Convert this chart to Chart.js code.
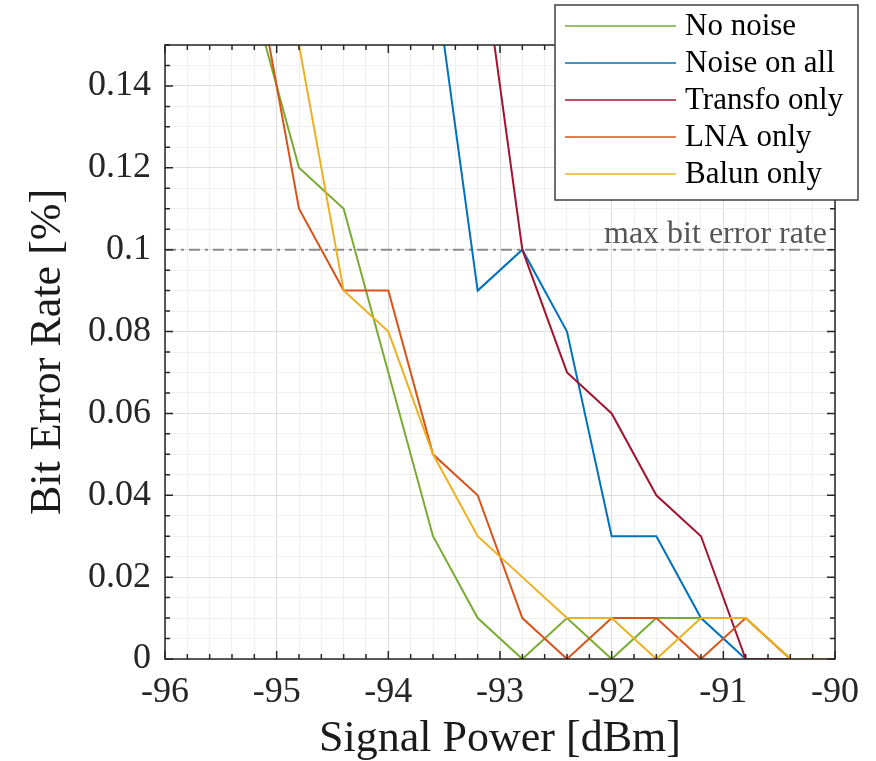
<!DOCTYPE html>
<html>
<head>
<meta charset="utf-8">
<title>Bit Error Rate vs Signal Power</title>
<script src="https://cdn.jsdelivr.net/npm/chart.js@4/dist/chart.umd.min.js"></script>
<style>
  body { margin: 0; background: #fff; }
  #wrap { width: 876px; height: 761px; }
</style>
</head>
<body>
<div id="wrap"><canvas id="ber"></canvas></div>
<script>
// signal power [dBm] of each measurement
const signalPower = [-95.2, -94.8, -94.4, -94.0, -93.6, -93.2, -92.8, -92.4, -92.0, -91.6, -91.2, -90.8, -90.4, -90.0];

// bit error rate [%], null = not measured / far off the plot
const noNoise    = [0.16, 0.12, 0.11, 0.07, 0.03, 0.01, 0.00, 0.01, 0.00, 0.01, 0.01, 0.01, 0.00, 0.00];
const noiseOnAll = [null, null, null, null, 0.17, 0.09, 0.10, 0.08, 0.03, 0.03, 0.01, 0.00, 0.00, 0.00];
const transfo    = [null, null, null, null, null, 0.18, 0.10, 0.07, 0.06, 0.04, 0.03, 0.00, 0.00, 0.00];
const lnaOnly    = [0.17, 0.11, 0.09, 0.09, 0.05, 0.04, 0.01, 0.00, 0.01, 0.01, 0.00, 0.01, 0.00, 0.00];
const balunOnly  = [null, 0.15, 0.09, 0.08, 0.05, 0.03, 0.02, 0.01, 0.01, 0.00, 0.01, 0.01, 0.00, 0.00];

const seriesNames  = ['No noise', 'Noise on all', 'Transfo only', 'LNA only', 'Balun only'];
const seriesValues = [noNoise, noiseOnAll, transfo, lnaOnly, balunOnly];
const seriesColors = ['#77AC30', '#0072BD', '#A2142F', '#D95319', '#EDB120'];

const maxBer = 0.1;
const maxBerLabel = 'max bit error rate';

const SERIF = "'Liberation Serif', 'Times New Roman', serif";
Chart.defaults.font.family = SERIF;
Chart.defaults.color = '#262626';

function isMajorX(v) { return Math.abs(v - Math.round(v)) < 1e-6; }
function isMajorY(v) { return Math.abs(v * 50 - Math.round(v * 50)) < 1e-6; }

const datasets = seriesValues.map((vals, i) => ({
    label: seriesNames[i],
    data: signalPower.map((x, j) => ({ x: x, y: vals[j] })),
    borderColor: seriesColors[i],
    backgroundColor: seriesColors[i],
    borderWidth: 2,
    pointRadius: 0,
    tension: 0,
    // later series on top, like the original plot
    order: seriesValues.length - i
}));

datasets.push({
    label: maxBerLabel,
    data: [{ x: -96, y: maxBer }, { x: -90, y: maxBer }],
    borderColor: '#8c8c8c',
    borderWidth: 2,
    borderDash: [11, 5, 3, 5],
    pointRadius: 0,
    order: 99
});

// box, inward ticks, threshold text and legend
const decorations = {
    id: 'decorations',
    afterDatasetsDraw(chart) {
        const { ctx, chartArea: a, scales } = chart;
        const xs = scales.x, ys = scales.y;
        ctx.save();

        // threshold label
        ctx.font = '32px ' + SERIF;
        ctx.fillStyle = '#555555';
        ctx.textAlign = 'right';
        ctx.textBaseline = 'alphabetic';
        ctx.fillText(maxBerLabel, a.right - 8, ys.getPixelForValue(maxBer) - 7);

        // frame
        ctx.strokeStyle = '#262626';
        ctx.lineWidth = 1.5;
        ctx.strokeRect(a.left, a.top, a.right - a.left, a.bottom - a.top);

        // inward ticks on all four sides
        ctx.beginPath();
        xs.ticks.forEach(t => {
            const px = xs.getPixelForValue(t.value);
            const len = isMajorX(t.value) ? 8 : 5;
            ctx.moveTo(px, a.bottom); ctx.lineTo(px, a.bottom - len);
            ctx.moveTo(px, a.top); ctx.lineTo(px, a.top + len);
        });
        ys.ticks.forEach(t => {
            const py = ys.getPixelForValue(t.value);
            const len = isMajorY(t.value) ? 8 : 5;
            ctx.moveTo(a.left, py); ctx.lineTo(a.left + len, py);
            ctx.moveTo(a.right, py); ctx.lineTo(a.right - len, py);
        });
        ctx.stroke();
        ctx.restore();
    },
    afterDraw(chart) {
        const ctx = chart.ctx;
        const boxX = 555, boxY = 5, boxW = 303, boxH = 195;
        ctx.save();
        ctx.fillStyle = '#ffffff';
        ctx.fillRect(boxX, boxY, boxW, boxH);
        ctx.strokeStyle = '#404040';
        ctx.lineWidth = 1.5;
        ctx.strokeRect(boxX, boxY, boxW, boxH);

        ctx.font = '31px ' + SERIF;
        ctx.textAlign = 'left';
        ctx.textBaseline = 'middle';
        seriesNames.forEach((name, i) => {
            const y = boxY + 21 + i * 37;
            ctx.strokeStyle = seriesColors[i];
            ctx.lineWidth = 1.5;
            ctx.beginPath();
            ctx.moveTo(boxX + 10, y);
            ctx.lineTo(boxX + 121, y);
            ctx.stroke();
            ctx.fillStyle = '#000000';
            ctx.fillText(name, boxX + 130, y + 1);
        });
        ctx.restore();
    }
};

const config = {
    type: 'line',
    data: { datasets: datasets },
    options: {
        responsive: true,
        maintainAspectRatio: false,
        animation: false,
        layout: { padding: { top: 45, right: 41, left: 0, bottom: 0 } },
        plugins: {
            legend: { display: false },
            tooltip: { enabled: false }
        },
        scales: {
            x: {
                type: 'linear',
                min: -96,
                max: -90,
                afterFit(scale) { scale.height = 102; },
                ticks: {
                    stepSize: 0.2,
                    maxTicksLimit: 100,
                    autoSkip: false,
                    maxRotation: 0,
                    padding: 12,
                    font: { size: 36 },
                    color: '#262626',
                    callback: v => isMajorX(v) ? String(Math.round(v)) : ''
                },
                grid: {
                    drawTicks: false,
                    color: c => (c.tick && isMajorX(c.tick.value)) ? '#dedede' : '#f0f0f0',
                    lineWidth: 1
                },
                border: { display: false },
                title: {
                    display: true,
                    text: 'Signal Power [dBm]',
                    font: { size: 44, lineHeight: 1 },
                    color: '#1a1a1a',
                    padding: { top: 0, bottom: 0 }
                }
            },
            y: {
                type: 'linear',
                min: 0,
                max: 0.15,
                afterFit(scale) { scale.width = 165; },
                ticks: {
                    stepSize: 0.005,
                    maxTicksLimit: 100,
                    autoSkip: false,
                    padding: 14,
                    font: { size: 36 },
                    color: '#262626',
                    callback: v => isMajorY(v) ? String(Number(v.toFixed(2))) : ''
                },
                grid: {
                    drawTicks: false,
                    color: c => (c.tick && isMajorY(c.tick.value)) ? '#dedede' : '#f0f0f0',
                    lineWidth: 1
                },
                border: { display: false },
                title: {
                    display: true,
                    text: 'Bit Error Rate [%]',
                    font: { size: 44, lineHeight: 1 },
                    color: '#1a1a1a',
                    padding: { top: 26, bottom: 0 }
                }
            }
        }
    },
    plugins: [decorations]
};

const chart = new Chart(document.getElementById('ber'), config);
</script>
</body>
</html>
